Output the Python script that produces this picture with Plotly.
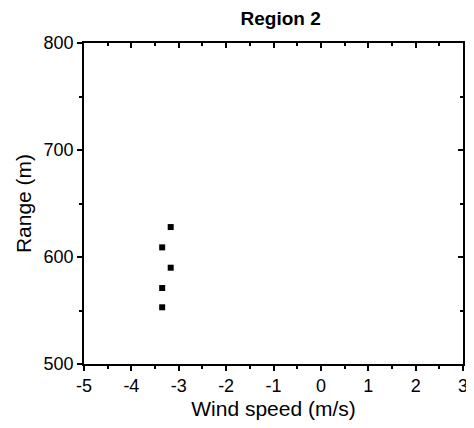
import plotly.graph_objects as go

wind_speed = [-3.35, -3.35, -3.17, -3.35, -3.17]
range_m = [553, 571, 590, 609, 628]

x_ticks = [-5, -4, -3, -2, -1, 0, 1, 2, 3]
x_ticktext = ["-5", "-4", "-3", "-2", "-1", "0", "1", "2", "3"]
y_ticks = [500, 600, 700, 800]

font_family = "Liberation Sans, Arial, sans-serif"

# page body has an 8px margin, so the figure is sized to the remaining area
W, H = 466, 420

fig = go.Figure()
fig.add_trace(go.Scatter(
    x=wind_speed, y=range_m, mode="markers",
    marker=dict(symbol="square", size=6, color="black"),
    showlegend=False,
))
fig.add_trace(go.Scatter(x=[-5, 3], y=[500, 800], xaxis="x2", yaxis="y2",
                         mode="markers", marker=dict(opacity=0), showlegend=False,
                         hoverinfo="skip"))

axis_common = dict(showgrid=False, zeroline=False, showline=True,
                   linecolor="black", linewidth=1.5, tickcolor="black",
                   tickwidth=1.5, automargin=False)

title_font = dict(family=font_family, size=21, color="black")
tick_font = dict(family=font_family, size=18, color="black")

fig.update_layout(
    width=W, height=H,
    margin=dict(l=76, r=11, t=35, b=64),
    plot_bgcolor="white", paper_bgcolor="white",
    font=dict(family=font_family, size=18, color="black"),
    title=dict(text="<b>Region 2</b>", x=0.585, xanchor="center",
               y=1 - 10 / H, yanchor="middle",
               font=dict(family=font_family, size=19, color="black")),
    xaxis=dict(range=[-5, 3], tickvals=x_ticks, ticktext=x_ticktext,
               ticks="outside", ticklen=5, tickfont=tick_font,
               title=dict(text="Wind speed (m/s)", standoff=6, font=title_font),
               minor=dict(dtick=0.5, ticks="outside", ticklen=3, tickcolor="black", tickwidth=1.5),
               **axis_common),
    yaxis=dict(range=[500, 800], tickvals=y_ticks, ticks="outside", ticklen=5,
               tickfont=tick_font,
               title=dict(text="Range (m)", standoff=6, font=title_font),
               minor=dict(dtick=50, ticks="outside", ticklen=3, tickcolor="black", tickwidth=1.5),
               **axis_common),
    xaxis2=dict(range=[-5, 3], overlaying="x", side="top", tickvals=x_ticks,
                ticks="inside", ticklen=5, showticklabels=False,
                minor=dict(dtick=0.5, ticks="inside", ticklen=3, tickcolor="black", tickwidth=1.5),
                **axis_common),
    yaxis2=dict(range=[500, 800], overlaying="y", side="right", tickvals=y_ticks,
                ticks="inside", ticklen=5, showticklabels=False,
                minor=dict(dtick=50, ticks="inside", ticklen=3, tickcolor="black", tickwidth=1.5),
                **axis_common),
)

fig.write_html("out.html")
